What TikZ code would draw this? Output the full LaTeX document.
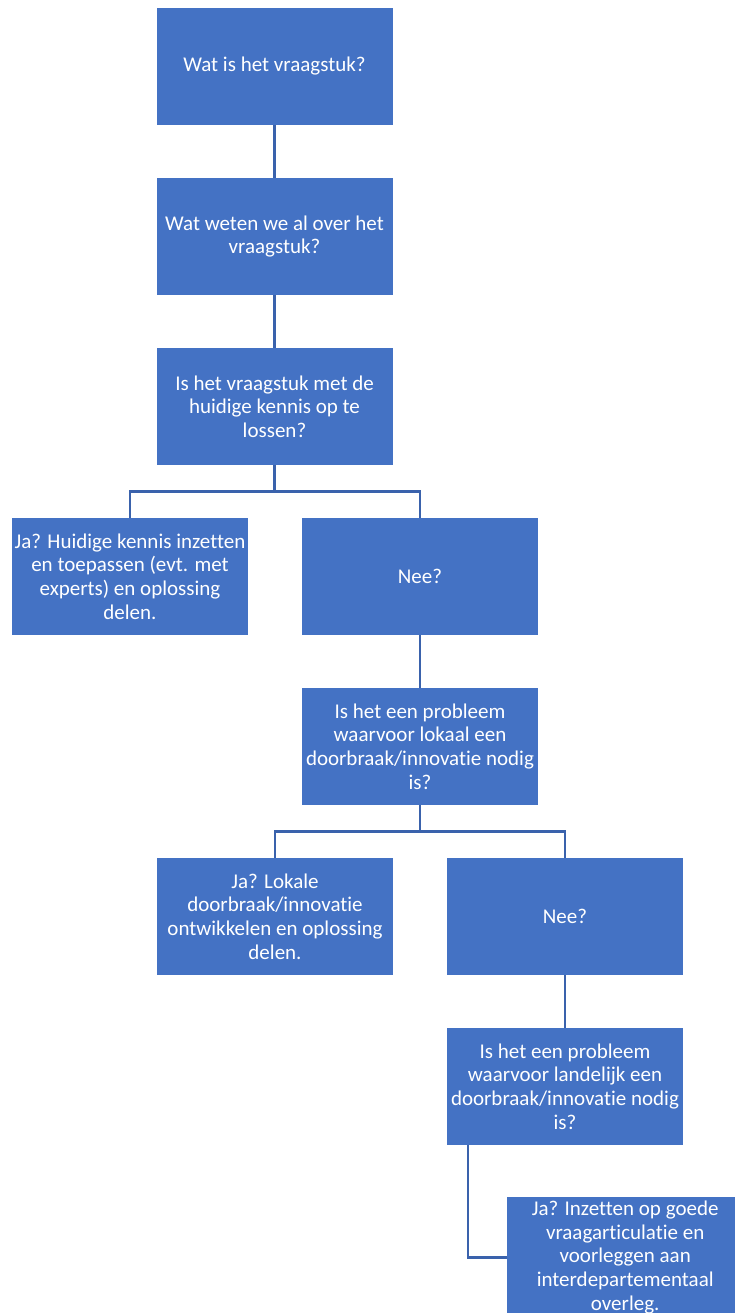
\documentclass[tikz,border=0pt]{standalone}
\usepackage{fontspec}
\setmainfont{Carlito}[Ligatures=NoCommon]
\usepackage{tikz}
\usetikzlibrary{calc}

\definecolor{boxblue}{RGB}{68,114,196}
\definecolor{lineblue}{RGB}{58,98,172}

\tikzset{
  stap/.style={rectangle, fill=boxblue, text=white, align=center,
    minimum width=236pt, minimum height=117pt, inner sep=0pt,
    font=\fontsize{21}{23.7}\selectfont},
  link/.style={lineblue, line width=2.6pt}
}

\begin{document}
\begin{tikzpicture}[x=1pt,y=-1pt]

\useasboundingbox (0,0) rectangle (735,1313);

   \node (vraag) at (274.5, 66.5) [stap] {Wat is het vraagstuk?};

   \node (weten) at (274.5, 236.5) [stap] {Wat weten we al over het\\ vraagstuk?};

   \node (kennis) at (274.5, 406.5) [stap] {Is het vraagstuk met de\\ huidige kennis op te\\ lossen?};

   \node (jahuidig) at (130, 576.5) [stap] {Ja? Huidige kennis inzetten\\ en toepassen (evt. met\\ experts) en oplossing\\ delen.};
   \node (nee1) at (420, 576.5) [stap] {Nee?};

   \node (lokaal) at (420, 746.5) [stap] {Is het een probleem\\ waarvoor lokaal een\\ doorbraak/innovatie nodig\\ is?};

   \node (jalokaal) at (275, 916.5) [stap] {Ja? Lokale\\ doorbraak/innovatie\\ ontwikkelen en oplossing\\ delen.};
   \node (nee2) at (565, 916.5) [stap] {Nee?};

   \node (landelijk) at (565, 1086.5) [stap] {Is het een probleem\\ waarvoor landelijk een\\ doorbraak/innovatie nodig\\ is?};

   \node (jalandelijk) at (507, 1197) [stap, anchor=north west, minimum height=120pt, inner ysep=1pt] {Ja? Inzetten op goede\\ vraagarticulatie en\\ voorleggen aan\\ interdepartementaal\\ overleg.};

\draw[link] (vraag) -- (weten);
\draw[link] (weten) -- (kennis);

\draw[link] (kennis.south) -- ++(0,26) -| (jahuidig.north);
\draw[link] (kennis.south) -- ++(0,26) -| (nee1.north);

\draw[link] (nee1) -- (lokaal);

\draw[link] (lokaal.south) -- ++(0,26) -| (jalokaal.north);
\draw[link] (lokaal.south) -- ++(0,26) -| (nee2.north);

\draw[link] (nee2) -- (landelijk);

\draw[link] ([xshift=-97pt]landelijk.south) |- (jalandelijk.west);

    \end{tikzpicture}
\end{document}
